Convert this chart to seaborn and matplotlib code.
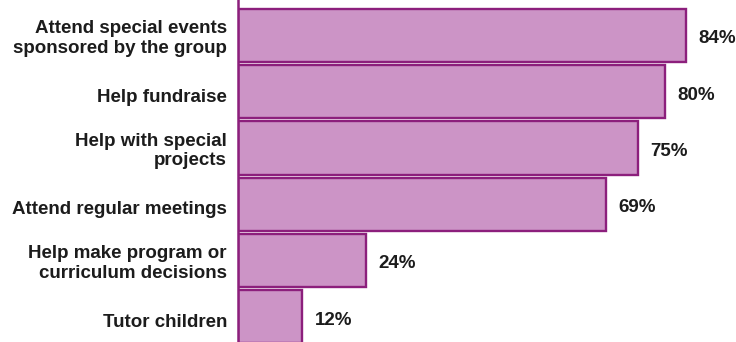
import matplotlib
matplotlib.use("Agg")
import matplotlib.pyplot as plt
import matplotlib.transforms as mtransforms
import seaborn as sns
import pandas as pd

# Ways parents take part in the group
activities = [
    "Attend special events\nsponsored by the group",
    "Help fundraise",
    "Help with special\nprojects",
    "Attend regular meetings",
    "Help make program or\ncurriculum decisions",
    "Tutor children",
]
percents = [84, 80, 75, 69, 24, 12]

df = pd.DataFrame({"activity": activities, "percent": percents})

sns.set_theme(style="white")
plt.rcParams["font.family"] = ["Liberation Sans", "DejaVu Sans"]

fill = "#cc94c6"
edge = "#8c1f7c"
ink = "#1c1c1c"

fig = plt.figure(figsize=(7.36, 3.42), dpi=100)
ax = fig.add_axes([238 / 736, 0, 1 - 238 / 736, 1])

sns.barplot(data=df, x="percent", y="activity", orient="h", color=fill,
            edgecolor=edge, linewidth=1.7, width=0.945, saturation=1, ax=ax)

ax.set_xlim(0, 93.4)
ax.set_ylim(5.449, -0.631)

# nudge single-line text slightly below the bar centres
drop = mtransforms.ScaledTranslation(0, -3.5 / 100, fig.dpi_scale_trans)

for i, v in enumerate(percents):
    ax.text(v + 2.4, i, f"{v}%", va="center", ha="left", fontsize=13.5,
            fontweight="bold", color=ink, transform=ax.transData + drop)

ax.set_xlabel("")
ax.set_ylabel("")
ax.set_xticks([])
ax.tick_params(axis="y", length=0, pad=8)
for lab in ax.get_yticklabels():
    lab.set_fontsize(13.5)
    lab.set_fontweight("bold")
    lab.set_color(ink)
    lab.set_multialignment("right")
    lab.set_linespacing(1.18)
    if "\n" not in lab.get_text():
        lab.set_transform(lab.get_transform() + drop)

for side in ("top", "right", "bottom"):
    ax.spines[side].set_visible(False)
ax.spines["left"].set_color(edge)
ax.spines["left"].set_linewidth(1.8)
ax.spines["left"].set_bounds(5.449, -0.68)

fig.savefig("out.png", dpi=100)
